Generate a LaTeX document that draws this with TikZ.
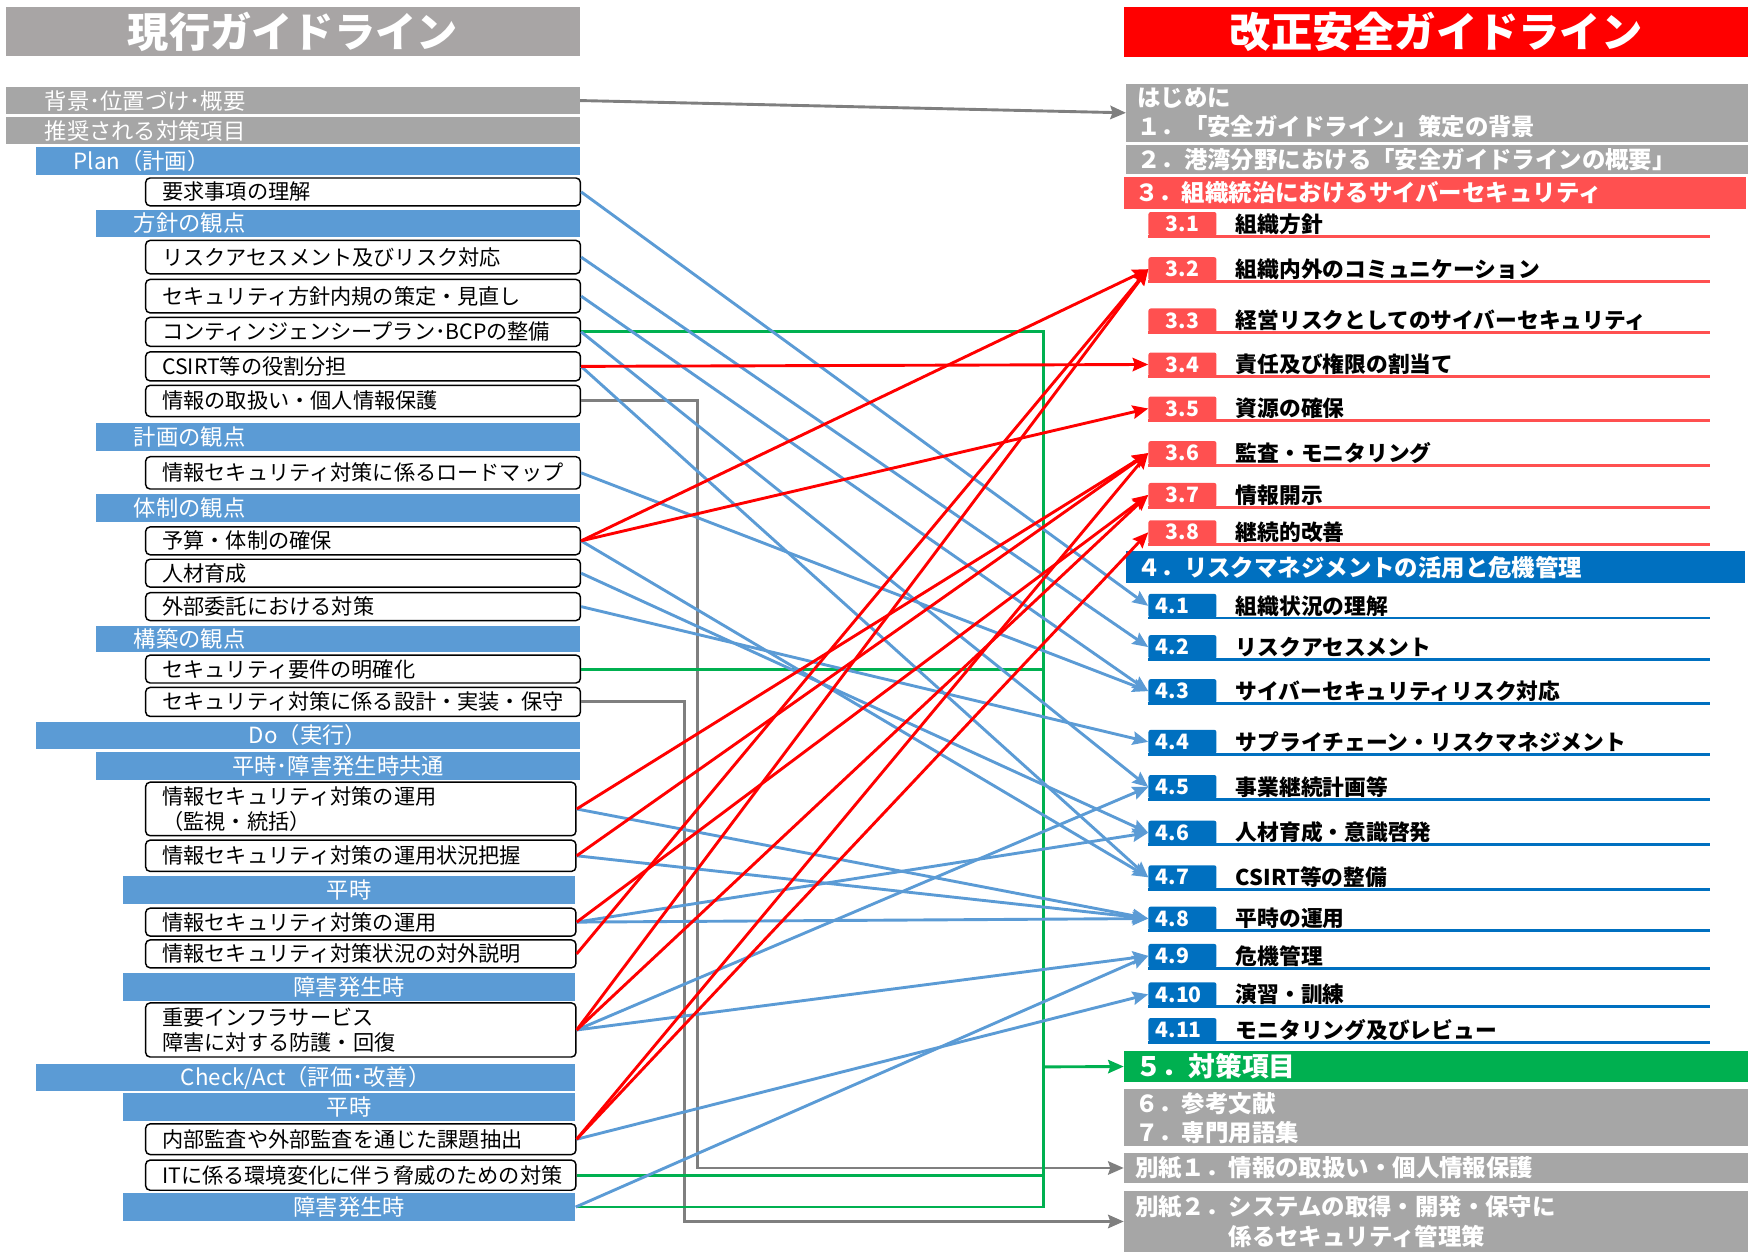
\documentclass[tikz,border=0pt]{standalone}
\usepackage{fontspec}
\setmainfont{Noto Sans CJK JP}
\usetikzlibrary{arrows.meta, positioning}
\definecolor{barblue}{RGB}{91, 155, 213}
\definecolor{deepblue}{RGB}{0, 112, 192}
\definecolor{softred}{RGB}{255, 80, 80}
\definecolor{purered}{RGB}{255, 0, 0}
\definecolor{okgreen}{RGB}{0, 176, 80}
\definecolor{bargray}{RGB}{166, 166, 166}
\definecolor{titlegray}{RGB}{168, 165, 165}
\definecolor{linegray}{RGB}{127, 127, 127}

\begin{document}
\begin{tikzpicture}[
    x=1pt, y=-1pt,
    >={Stealth[length=14pt, width=12pt, inset=2pt]},
    title/.style={anchor=north west, inner sep=0pt, text=white, font=\fontsize{37pt}{40pt}\selectfont\bfseries},
    graybar/.style={anchor=north west, fill=bargray, text=white, inner xsep=35pt, inner ysep=0pt, align=left, font=\fontsize{20pt}{24pt}\selectfont},
    bluebar/.style={anchor=north west, fill=barblue, text=white, inner xsep=34pt, inner ysep=0pt, align=left, text width=366pt, font=\fontsize{20pt}{24pt}\selectfont},
    midbar/.style={anchor=north west, fill=barblue, text=white, inner sep=0pt, minimum width=406pt, font=\fontsize{20pt}{24pt}\selectfont},
    itembox/.style={anchor=north west, draw=black, fill=white, line width=1.3pt, rounded corners=4pt, inner xsep=15pt, inner ysep=0pt, align=left, text width=360pt, font=\fontsize{19pt}{22.5pt}\selectfont},
    secbar/.style={anchor=north west, text=white, inner xsep=10pt, inner ysep=0pt, align=left, text width=540pt, font=\fontsize{21pt}{26pt}\selectfont\bfseries},
    tab/.style={anchor=north west, text=white, rounded corners=2pt, minimum width=61pt, minimum height=21.5pt, inner sep=0pt, font=\fontsize{19pt}{20pt}\selectfont\bfseries},
    redtab/.style={tab, fill=softred},
    bluetab/.style={tab, fill=deepblue, text width=48pt, align=left},
    itemtext/.style={text=black, inner sep=0pt, xshift=17pt, font=\fontsize{19.5pt}{20pt}\selectfont\bfseries},
    redline/.style={line width=2.6pt, draw=softred},
    blueline/.style={line width=2.6pt, draw=deepblue},
    grayarrow/.style={line width=2.6pt, ->, draw=linegray},
    greenline/.style={line width=2.6pt, draw=okgreen},
    redarrow/.style={line width=2.6pt, ->, draw=purered},
    bluearrow/.style={line width=2.6pt, ->, draw=barblue}
]
\useasboundingbox (0,0) rectangle (1568,1124);

% current guideline
\node (oldtitle) [title, fill=titlegray, minimum width=515pt, minimum height=44pt] at (5,6) {現行ガイドライン};
\node (bg) [graybar, text width=445pt, minimum height=24pt] at (5,78) {背景･位置づけ･概要};
\node (rec) [graybar, text width=445pt, minimum height=24pt] at (5,105) {推奨される対策項目};
\node (plan) [bluebar, text width=420pt, minimum height=25pt] at (32,132) {Plan（計画）};
\node (req) [itembox, minimum height=25pt] at (130,159) {要求事項の理解};
\node (hoshin) [bluebar, minimum height=24pt] at (86,188) {方針の観点};
\node (risk) [itembox, minimum height=30pt] at (130,215) {リスクアセスメント及びリスク対応};
\node (policy) [itembox, minimum height=30pt] at (130,250) {セキュリティ方針内規の策定・見直し};
\node (bcp) [itembox, minimum height=26pt] at (130,284) {コンティンジェンシープラン･BCPの整備};
\node (csirt) [itembox, minimum height=26pt] at (130,315) {CSIRT等の役割分担};
\node (privacy) [itembox, minimum height=28pt] at (130,345) {情報の取扱い・個人情報保護};
\node (keikaku) [bluebar, minimum height=25pt] at (86,379) {計画の観点};
\node (roadmap) [itembox, minimum height=29pt] at (130,409) {情報セキュリティ対策に係るロードマップ};
\node (taisei) [bluebar, minimum height=25pt] at (86,443) {体制の観点};
\node (budget) [itembox, minimum height=25pt] at (130,472) {予算・体制の確保};
\node (hr) [itembox, minimum height=25pt] at (130,501) {人材育成};
\node (outsrc) [itembox, minimum height=25pt] at (130,531) {外部委託における対策};
\node (kochiku) [bluebar, minimum height=24pt] at (86,561) {構築の観点};
\node (reqsec) [itembox, minimum height=25pt] at (130,587) {セキュリティ要件の明確化};
\node (design) [itembox, minimum height=26pt] at (130,616) {セキュリティ対策に係る設計・実装・保守};
\node (do) [midbar, minimum width=488pt, minimum height=25pt] at (32,647) {Do（実行）};
\node (common) [midbar, minimum width=434pt, minimum height=25pt] at (86,674.5) {平時･障害発生時共通};
\node (monitor) [itembox, text width=356pt, minimum height=48pt] at (130,701) {情報セキュリティ対策の運用\\（監視・統括）};
\node (status) [itembox, text width=356pt, minimum height=28pt] at (130,753) {情報セキュリティ対策の運用状況把握};
\node (normal1) [midbar, minimum height=25pt] at (110,786) {平時};
\node (ops) [itembox, text width=356pt, minimum height=25pt] at (130,814) {情報セキュリティ対策の運用};
\node (disclose) [itembox, text width=356pt, minimum height=25pt] at (130,842.5) {情報セキュリティ対策状況の対外説明};
\node (incident1) [midbar, minimum height=24.5pt] at (110,873) {障害発生時};
\node (infra) [itembox, text width=356pt, minimum height=48.5pt] at (130,899) {重要インフラサービス\\障害に対する防護・回復};
\node (check) [midbar, minimum width=484pt, minimum height=24pt] at (32,954.5) {Check/Act（評価･改善）};
\node (normal2) [midbar, minimum height=24.5pt] at (110,980.5) {平時};
\node (audit) [itembox, text width=356pt, minimum height=27.5pt] at (130,1007.5) {内部監査や外部監査を通じた課題抽出};
\node (itenv) [itembox, text width=356pt, minimum height=27pt] at (130,1040) {ITに係る環境変化に伴う脅威のための対策};
\node (incident2) [midbar, minimum height=25pt] at (110,1070) {障害発生時};

% revised guideline
\node (newtitle) [title, fill=purered, minimum width=560pt, minimum height=45pt] at (1008,6) {改正安全ガイドライン};
\node (intro) [secbar, fill=bargray, minimum height=52pt] at (1010,75) {はじめに\\１．「安全ガイドライン」策定の背景};
\node (sec2) [secbar, fill=bargray, minimum height=26pt] at (1010,130) {２．港湾分野における「安全ガイドラインの概要」};
\node (sec3) [secbar, fill=softred, text width=538pt, minimum height=28pt] at (1008,159) {３．組織統治におけるサイバーセキュリティ};
\node (t31) [redtab, label={[itemtext]east:組織方針}] at (1030,190) {3.1};
\node (t32) [redtab, label={[itemtext]east:組織内外のコミュニケーション}] at (1030,230.5) {3.2};
\node (t33) [redtab, label={[itemtext]east:経営リスクとしてのサイバーセキュリティ}] at (1030,276.5) {3.3};
\node (t34) [redtab, label={[itemtext]east:責任及び権限の割当て}] at (1030,316) {3.4};
\node (t35) [redtab, label={[itemtext]east:資源の確保}] at (1030,355.5) {3.5};
\node (t36) [redtab, label={[itemtext]east:監査・モニタリング}] at (1030,395.5) {3.6};
\node (t37) [redtab, label={[itemtext]east:情報開示}] at (1030,433) {3.7};
\node (t38) [redtab, label={[itemtext]east:継続的改善}] at (1030,466.5) {3.8};
\node (sec4) [secbar, fill=deepblue, text width=535pt, minimum height=28pt] at (1010,494.5) {４．リスクマネジメントの活用と危機管理};
\node (u41) [bluetab, label={[itemtext]east:組織状況の理解}] at (1030,532.5) {4.1};
\node (u42) [bluetab, label={[itemtext]east:リスクアセスメント}] at (1030,569.5) {4.2};
\node (u43) [bluetab, label={[itemtext]east:サイバーセキュリティリスク対応}] at (1030,609) {4.3};
\node (u44) [bluetab, label={[itemtext]east:サプライチェーン・リスクマネジメント}] at (1030,654.5) {4.4};
\node (u45) [bluetab, label={[itemtext]east:事業継続計画等}] at (1030,695) {4.5};
\node (u46) [bluetab, label={[itemtext]east:人材育成・意識啓発}] at (1030,736) {4.6};
\node (u47) [bluetab, label={[itemtext]east:CSIRT等の整備}] at (1030,776) {4.7};
\node (u48) [bluetab, label={[itemtext]east:平時の運用}] at (1030,813) {4.8};
\node (u49) [bluetab, label={[itemtext]east:危機管理}] at (1030,846.5) {4.9};
\node (u410) [bluetab, label={[itemtext]east:演習・訓練}] at (1030,881) {4.10};
\node (u411) [bluetab, label={[itemtext]east:モニタリング及びレビュー}] at (1030,913) {4.11};
\node (sec5) [secbar, fill=okgreen, minimum height=27pt, font=\fontsize{24pt}{26pt}\selectfont\bfseries] at (1008,943) {５．対策項目};
\node (sec67) [secbar, fill=bargray, minimum height=51pt] at (1008,977) {６．参考文献\\７．専門用語集};
\node (app1) [secbar, fill=bargray, minimum height=27pt] at (1008,1034) {別紙１．情報の取扱い・個人情報保護};
\node (app2) [secbar, fill=bargray, minimum height=55pt, font=\fontsize{21pt}{27pt}\selectfont\bfseries] at (1008,1068) {別紙２．システムの取得・開発・保守に\\\hspace*{4em}係るセキュリティ管理策};

% underlines of the sub items
\draw [redline] (t31.south west) -- +(504,0);
\draw [redline] (t32.south west) -- +(504,0);
\draw [redline] (t33.south west) -- +(504,0);
\draw [redline] (t34.south west) -- +(504,0);
\draw [redline] (t35.south west) -- +(504,0);
\draw [redline] (t36.south west) -- +(504,0);
\draw [redline] (t37.south west) -- +(504,0);
\draw [redline] (t38.south west) -- +(504,0);
\draw [blueline] (u41.south west) -- +(504,0);
\draw [blueline] (u42.south west) -- +(504,0);
\draw [blueline] (u43.south west) -- +(504,0);
\draw [blueline] (u44.south west) -- +(504,0);
\draw [blueline] (u45.south west) -- +(504,0);
\draw [blueline] (u46.south west) -- +(504,0);
\draw [blueline] (u47.south west) -- +(504,0);
\draw [blueline] (u48.south west) -- +(504,0);
\draw [blueline] (u49.south west) -- +(504,0);
\draw [blueline] (u410.south west) -- +(504,0);
\draw [blueline] (u411.south west) -- +(504,0);

% gray and green routes
\coordinate (gbus) at (936,957);
\draw [grayarrow] (bg.east) -- (intro.west);
\draw [grayarrow] (privacy.east) -- ++(104,0) |- (app1.west);
\draw [grayarrow] (design.east) -- ++(92.6,0) |- (app2.west);
\draw [greenline] (bcp.east) -| (gbus);
\draw [greenline] (reqsec.east) -| (gbus);
\draw [greenline] (itenv.east) -| (gbus);
\draw [greenline] (incident2.east) -| (gbus);
\draw [greenline, ->] (gbus) -- (sec5.west);

% blue links
\draw [bluearrow] (req.east) -- (u41.west);
\draw [bluearrow] (risk.east) -- (u42.west);
\draw [bluearrow] (policy.east) -- (u43.west);
\draw [bluearrow] (bcp.east) -- (u45.west);
\draw [bluearrow] (csirt.east) -- (u47.west);
\draw [bluearrow] (roadmap.east) -- (u43.west);
\draw [bluearrow] (budget.east) -- (u47.west);
\draw [bluearrow] (hr.east) -- (u46.west);
\draw [bluearrow] (outsrc.east) -- (u44.west);
\draw [bluearrow] (monitor.east) -- (u48.west);
\draw [bluearrow] (status.east) -- (u48.west);
\draw [bluearrow] (ops.east) -- (u48.west);
\draw [bluearrow] (ops.east) -- (u46.west);
\draw [bluearrow] (infra.east) -- (u45.west);
\draw [bluearrow] (infra.east) -- (u49.west);
\draw [bluearrow] (audit.east) -- (u410.west);
\draw [bluearrow] (incident2.east) -- (u49.west);

% red links
\draw [redarrow] (csirt.east) -- (t34.west);
\draw [redarrow] (budget.east) -- (t32.west);
\draw [redarrow] (budget.east) -- (t35.west);
\draw [redarrow] (monitor.east) -- (t36.west);
\draw [redarrow] (status.east) -- (t36.west);
\draw [redarrow] (ops.east) -- (t37.west);
\draw [redarrow] (disclose.east) -- (t32.west);
\draw [redarrow] (infra.east) -- (t32.west);
\draw [redarrow] (infra.east) -- (t37.west);
\draw [redarrow] (audit.east) -- (t36.west);
\draw [redarrow] (audit.east) -- (t38.west);

\end{tikzpicture}
\end{document}
